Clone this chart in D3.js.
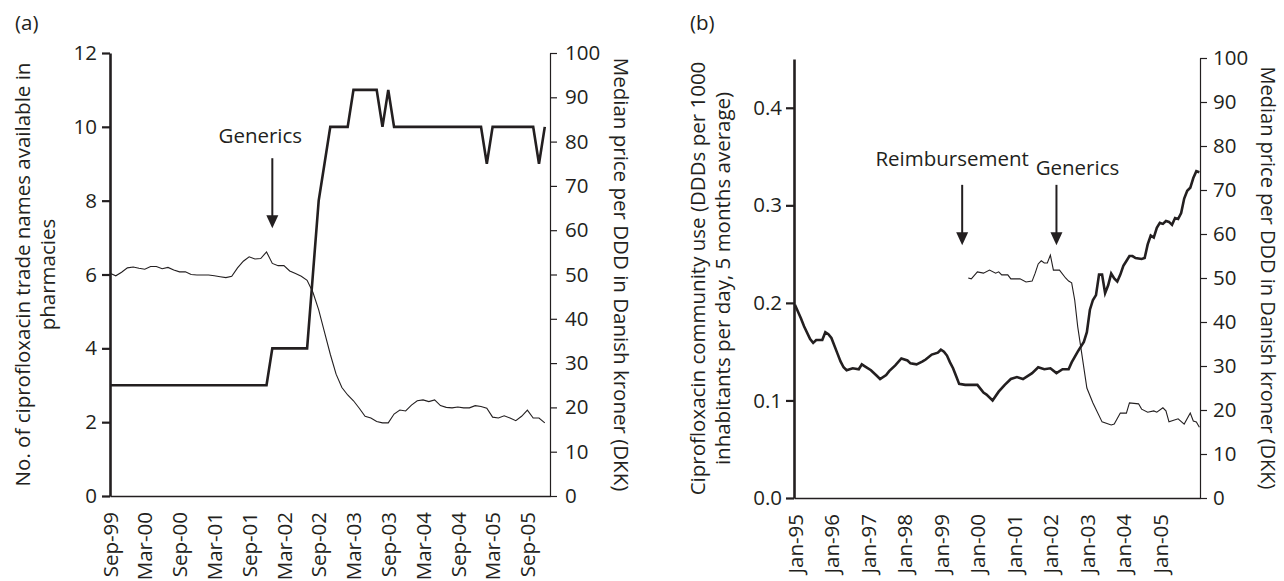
<!DOCTYPE html>
<html><head><meta charset="utf-8">
<script src="https://cdn.jsdelivr.net/npm/d3@7"></script>
<style>
body{margin:0;background:#fff;}
svg text{font-family:"Open Sans",sans-serif;font-size:20.5px;fill:#231f20;}
</style></head><body>
<svg id="chart" width="1284" height="581"></svg>
<script>
// ---------- Panel (a): monthly, Sep-99 (index 0) to Dec-05 (index 75) ----------
const ticksA = ["Sep-99","Mar-00","Sep-00","Mar-01","Sep-01","Mar-02","Sep-02","Mar-03","Sep-03","Mar-04","Sep-04","Mar-05","Sep-05"];
const tradeNames = [3,3,3,3,3,3,3,3,3,3, 3,3,3,3,3,3,3,3,3,3, 3,3,3,3,3,3,3,3,4,4,
  4,4,4,4,4,6,8,9,10,10, 10,10,11,11,11,11,11,10,11,10, 10,10,10,10,10,10,10,10,10,10,
  10,10,10,10,10,9,10,10,10,10, 10,10,10,10,9,10];
const priceA = [50.3,49.7,50.5,51.5,51.7,51.4,51.2,51.8,51.8,51.3,
  51.6,51.0,50.6,50.6,50.0,49.9,49.9,49.9,49.7,49.5,
  49.3,49.6,51.5,53.0,54.0,53.5,53.6,55.1,52.5,52.0,
  52.0,50.8,50.2,49.6,48.7,46.0,42.0,37.0,32.0,27.5,
  24.5,22.8,21.5,19.8,18.0,17.6,16.8,16.5,16.5,18.5,
  19.4,19.2,20.5,21.5,21.7,21.3,21.7,20.4,20.0,19.9,
  20.1,19.9,19.9,20.4,20.2,19.8,17.8,17.6,18.1,17.6,
  17.0,18.0,19.4,17.6,17.6,16.5];
const namesTicks = [0,2,4,6,8,10,12];
const priceTicks = [0,10,20,30,40,50,60,70,80,90,100];

// ---------- Panel (b): month index from Jan-95 ----------
const ticksB = ["Jan-95","Jan-96","Jan-97","Jan-98","Jan-99","Jan-00","Jan-01","Jan-02","Jan-03","Jan-04","Jan-05"];
const usage = [[0,0.198],[2,0.184],[3,0.176],[5,0.163],[6,0.159],[7,0.162],[9,0.162],[10,0.170],[11,0.168],[12,0.164],
  [14,0.148],[15,0.140],[16,0.134],[17,0.131],[19,0.133],[21,0.132],[22,0.137],[23,0.135],[25,0.131],[27,0.125],
  [28,0.122],[30,0.126],[31,0.130],[33,0.136],[35,0.143],[37,0.141],[38,0.138],[40,0.137],[42,0.140],[43,0.142],
  [45,0.147],[47,0.149],[48,0.152],[49,0.150],[50,0.146],[51,0.139],[52,0.133],[53,0.125],[54,0.117],[56,0.116],
  [60,0.116],[62,0.108],[63,0.106],[65,0.100],[67,0.109],[69,0.116],[71,0.122],[73,0.124],[75,0.122],[78,0.128],
  [80,0.134],[82,0.132],[84,0.133],[86,0.128],[88,0.132],[90,0.132],[91,0.139],[93,0.150],[95,0.160],[96,0.170],
  [97,0.193],[98,0.203],[99,0.208],[100,0.229],[101,0.229],[102,0.210],[103,0.218],[104,0.230],[105,0.225],[106,0.222],
  [107,0.229],[108,0.238],[109,0.243],[110,0.248],[111,0.248],[112,0.246],[114,0.245],[115,0.246],[116,0.260],[117,0.269],
  [118,0.267],[119,0.277],[120,0.282],[121,0.281],[122,0.284],[123,0.283],[124,0.280],[125,0.287],[126,0.286],[127,0.292],
  [128,0.307],[129,0.315],[130,0.318],[131,0.328],[132,0.335],[133,0.334]];
const priceB = [[57,50.0],[58,49.8],[60,51.4],[62,51.1],[64,51.8],[66,51.1],[67,51.4],[68,50.7],[70,50.7],[71,49.8],
  [74,49.8],[76,49.1],[78,49.3],[79,51.1],[80,53.2],[81,53.9],[82,53.4],[83,53.4],[84,55.2],[85,51.8],
  [87,51.8],[89,50.0],[90,49.3],[91,48.9],[92,45.0],[93,38.9],[94,34.3],[96,25.0],[98,21.6],[101,17.3],
  [104,16.6],[105,16.8],[107,19.3],[109,19.3],[110,21.6],[113,21.4],[114,20.2],[116,19.5],[118,19.8],[119,19.5],
  [121,20.5],[122,19.8],[123,17.3],[126,18.0],[128,16.8],[130,19.3],[131,17.5],[132,17.3],[133,16.1]];
const usageTicks = [0,0.1,0.2,0.3,0.4];

// annotations: [label, month, arrow top value, arrow tip value]
const annA = [["Generics",28,9.15,7.25]];
const annB = [["Reimbursement",55,0.321,0.259],["Generics",86,0.321,0.259]];

const ink = "#231f20";
const svg = d3.select("#chart");

function styleAxis(g, domainW, tickW){
  g.attr("font-family", null).attr("font-size", null);
  g.select(".domain").attr("stroke", ink).attr("stroke-width", domainW);
  g.selectAll(".tick line").attr("stroke", ink).attr("stroke-width", tickW);
}
function arrow(g, x, yTop, yTip){
  g.append("line").attr("x1",x).attr("x2",x).attr("y1",yTop).attr("y2",yTip-10)
    .attr("stroke",ink).attr("stroke-width",2);
  g.append("path").attr("d",`M${x-6},${yTip-13}L${x+6},${yTip-13}L${x},${yTip}Z`).attr("fill",ink);
}

// ================= Panel (a) =================
{
  const g = svg.append("g");
  const x = d3.scaleLinear().domain([0, 75.9]).range([110, 550]);
  const yL = d3.scaleLinear().domain([0, 12]).range([496, 53]);
  const yR = d3.scaleLinear().domain([0, 100]).range([496, 53]);

  g.append("g").attr("transform","translate(0,496)")
    .call(d3.axisBottom(x).tickValues(d3.range(ticksA.length).map(i=>i*6)).tickFormat((d,i)=>ticksA[i]).tickSize(0).tickSizeOuter(0))
    .call(a=>{styleAxis(a,1.4,1);
      a.selectAll("text").attr("transform","rotate(-90)").attr("text-anchor","end").attr("x",-16).attr("y",0).attr("dy","0.35em");});
  g.append("g").attr("transform","translate(110,0)")
    .call(d3.axisLeft(yL).tickValues(namesTicks).tickSize(8).tickSizeOuter(0).tickPadding(5))
    .call(a=>styleAxis(a,2.6,2.2));
  g.append("g").attr("transform","translate(550,0)")
    .call(d3.axisRight(yR).tickValues(priceTicks).tickSize(7).tickSizeOuter(0).tickPadding(8))
    .call(a=>styleAxis(a,1.2,1.2));

  g.append("path").datum(priceA).attr("fill","none").attr("stroke",ink).attr("stroke-width",1.1)
    .attr("d", d3.line().x((d,i)=>x(i)).y(d=>yR(d)));
  g.append("path").datum(tradeNames).attr("fill","none").attr("stroke",ink).attr("stroke-width",2.6)
    .attr("d", d3.line().x((d,i)=>x(i)).y(d=>yL(d)));

  g.append("text").attr("x",15).attr("y",30).text("(a)");
  g.append("text").attr("transform","translate(30,274.5) rotate(-90)").attr("text-anchor","middle")
    .text("No. of ciprofloxacin trade names available in");
  g.append("text").attr("transform","translate(55,274.5) rotate(-90)").attr("text-anchor","middle")
    .text("pharmacies");
  g.append("text").attr("transform","translate(614,274.5) rotate(90)").attr("text-anchor","middle")
    .text("Median price per DDD in Danish kroner (DKK)");

  annA.forEach(([lab,m,top,tip])=>{
    const xx = x(m);
    arrow(g, xx, yL(top), yL(tip));
    g.append("text").attr("x", xx-12).attr("y", yL(top)-15).attr("text-anchor","middle").text(lab);
  });
}

// ================= Panel (b) =================
{
  const g = svg.append("g");
  const x = d3.scaleLinear().domain([-0.3, 133.2]).range([794, 1200]);
  const yL = d3.scaleLinear().domain([0, 0.45]).range([498, 59]);
  const yR = d3.scaleLinear().domain([0, 100]).range([498, 58]);

  g.append("g").attr("transform","translate(0,498)")
    .call(d3.axisBottom(x).tickValues(d3.range(ticksB.length).map(i=>i*12)).tickFormat((d,i)=>ticksB[i]).tickSize(0).tickSizeOuter(0))
    .call(a=>{styleAxis(a,1.4,1);
      a.selectAll("text").attr("transform","rotate(-90)").attr("text-anchor","end").attr("x",-16).attr("y",0).attr("dy","0.35em");});
  g.append("g").attr("transform","translate(794,0)")
    .call(d3.axisLeft(yL).tickValues(usageTicks).tickFormat(d3.format(".1f")).tickSize(8).tickSizeOuter(0).tickPadding(4))
    .call(a=>styleAxis(a,2.6,2.2));
  g.append("g").attr("transform","translate(1200,0)")
    .call(d3.axisRight(yR).tickValues(priceTicks).tickSize(7).tickSizeOuter(0).tickPadding(6))
    .call(a=>styleAxis(a,1.2,1.2));

  g.append("path").datum(priceB).attr("fill","none").attr("stroke",ink).attr("stroke-width",1.1)
    .attr("d", d3.line().x(d=>x(d[0])).y(d=>yR(d[1])));
  g.append("path").datum(usage).attr("fill","none").attr("stroke",ink).attr("stroke-width",2.6)
    .attr("d", d3.line().x(d=>x(d[0])).y(d=>yL(d[1])));

  g.append("text").attr("x",690).attr("y",30).text("(b)");
  g.append("text").attr("transform","translate(705,278.5) rotate(-90)").attr("text-anchor","middle")
    .text("Ciprofloxacin community use (DDDs per 1000");
  g.append("text").attr("transform","translate(730,278.5) rotate(-90)").attr("text-anchor","middle")
    .text("inhabitants per day, 5 months average)");
  g.append("text").attr("transform","translate(1261,278) rotate(90)").attr("text-anchor","middle")
    .style("font-size","20px")
    .text("Median price per DDD in Danish kroner (DKK)");

  annB.forEach(([lab,m,top,tip],i)=>{
    const xx = x(m);
    arrow(g, xx, yL(top), yL(tip));
    const tx = i===0 ? xx-10 : xx+21;
    const ty = i===0 ? yL(top)-19 : yL(top)-10;
    g.append("text").attr("x", tx).attr("y", ty).attr("text-anchor","middle").text(lab);
  });
}
</script>
</body></html>
